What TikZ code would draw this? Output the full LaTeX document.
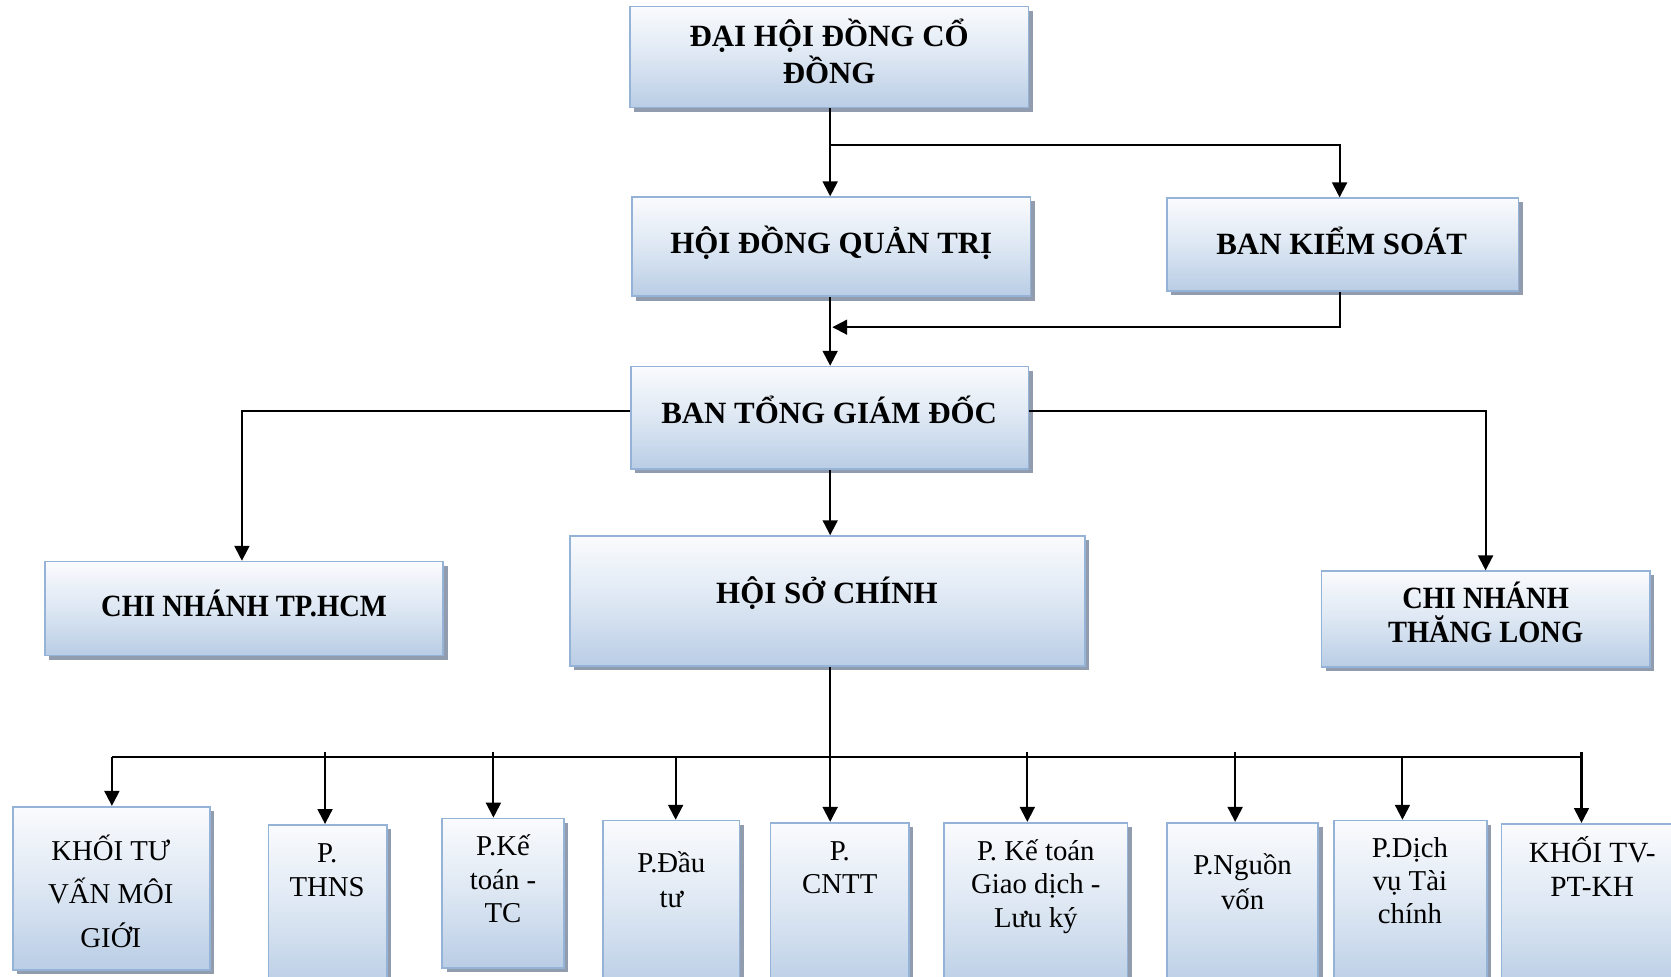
\documentclass[tikz,border=0pt]{standalone}
\usepackage{fontspec}
\setmainfont{Liberation Serif}
\usetikzlibrary{arrows.meta,shadows}
\definecolor{boxedge}{RGB}{149,179,215}
\definecolor{boxtop}{RGB}{250,251,253}
\definecolor{boxmid}{RGB}{221,231,243}
\definecolor{boxbot}{RGB}{185,205,229}
\definecolor{shadowc}{RGB}{145,157,174}
\begin{document}
\begin{tikzpicture}[x=1pt,y=-1pt,
  box/.style={draw=boxedge, line width=1.6pt, top color=boxtop, bottom color=boxbot, middle color=boxmid,
    drop shadow={shadow xshift=4pt, shadow yshift=-4pt, fill=shadowc, opacity=1}, inner sep=0pt},
  tb/.style={font=\fontsize{29}{34.5}\selectfont\bfseries, align=center, inner sep=0pt, anchor=base},
  tr/.style={font=\fontsize{27}{32}\selectfont, align=center, inner sep=0pt, anchor=base},
  ln/.style={line width=1.9pt},
  arr/.style={line width=1.9pt, -{Triangle[length=14pt,width=14pt]}}]
\path[use as bounding box, clip] (0,0) rectangle (1568,916);

% boxes
\node[box, minimum width=374pt, minimum height=95pt] (dh) at (778,53.5) {};
\node[box, minimum width=374pt, minimum height=93pt] (hdqt) at (780,231.5) {};
\node[box, minimum width=330pt, minimum height=87pt] (bks) at (1260,229.5) {};
\node[box, minimum width=373pt, minimum height=96pt] (btgd) at (778.5,392) {};
\node[box, minimum width=374pt, minimum height=88pt] (hcm) at (229,571) {};
\node[box, minimum width=483pt, minimum height=122pt] (hsc) at (776.5,564) {};
\node[box, minimum width=308pt, minimum height=90pt] (tl) at (1394,581) {};
\node[box, minimum width=185pt, minimum height=153pt] (b1) at (104.5,833.5) {};
\node[box, minimum width=111pt, minimum height=156pt] (b2) at (307.5,852) {};
\node[box, minimum width=114pt, minimum height=140pt] (b3) at (472,838) {};
\node[box, minimum width=128pt, minimum height=160pt] (b4) at (630,850) {};
\node[box, minimum width=130pt, minimum height=158pt] (b5) at (788,851) {};
\node[box, minimum width=172pt, minimum height=158pt] (b6) at (972,851) {};
\node[box, minimum width=142pt, minimum height=158pt] (b7) at (1166,851) {};
\node[box, minimum width=143pt, minimum height=160pt] (b8) at (1323.5,850) {};
\node[box, minimum width=171pt, minimum height=157pt] (b9) at (1494.5,851.5) {};

% texts (anchor=base is the baseline of the last line)
\node[tb] (dht) at (778,78) {ĐẠI HỘI ĐỒNG CỔ\\ĐỒNG};
\node[tb] (hdqtt) at (780,237.5) {HỘI ĐỒNG QUẢN TRỊ};
\node[tb] (bkst) at (1259,238.5) {BAN KIỂM SOÁT};
\node[tb] (btgdt) at (778,397.5) {BAN TỔNG GIÁM ĐỐC};
\node[tb] (hcmt) at (229,578.5) {\scalebox{0.925}[1]{CHI NHÁNH TP.HCM}};
\node[tb] (hsct) at (776,566.5) {HỘI SỞ CHÍNH};
\node[tb, font=\fontsize{29}{32}\selectfont\bfseries] (tlt) at (1394,603) {\scalebox{0.92}[1]{CHI NHÁNH}\\\scalebox{0.92}[1]{THĂNG LONG}};
\node[tr, font=\fontsize{27}{41}\selectfont] (b1t) at (104,889) {KHỐI TƯ\\VẤN MÔI\\GIỚI};
\node[tr] (b2t) at (307,841) {P.\\THNS};
\node[tr, font=\fontsize{27}{31.5}\selectfont] (b3t) at (472,866) {P.Kế\\toán -\\TC};
\node[tr, font=\fontsize{27}{33}\selectfont] (b4t) at (630,852) {P.Đầu\\tư};
\node[tr, font=\fontsize{27}{31}\selectfont] (b5t) at (788,838) {P.\\CNTT};
\node[tr, font=\fontsize{27}{31.5}\selectfont] (b6t) at (972,870) {P. Kế toán\\Giao dịch -\\Lưu ký};
\node[tr] (b7t) at (1166,853) {P.Nguồn\\vốn};
\node[tr, font=\fontsize{27}{31}\selectfont] (b8t) at (1323,867) {P.Dịch\\vụ Tài\\chính};
\node[tr, font=\fontsize{27.5}{32}\selectfont] (b9t) at (1494,841) {KHỐI TV-\\PT-KH};

% connectors
\coordinate (j1) at (779,136);
\coordinate (k1) at (1257,136);
\draw[arr] (dh.south -| j1) -- (hdqt.north -| j1);
\draw[arr] (j1) -- (k1) -- (k1 |- bks.north);
\draw[arr] (hdqt.south -| j1) -- (btgd.north -| j1);
\coordinate (k2) at (1257,307);
\coordinate (j2) at (781,307);
\draw[arr] (bks.south -| k2) -- (k2) -- (j2);
\coordinate (l1) at (227,386);
\coordinate (r1) at (1394,386);
\draw[arr] (btgd.west |- l1) -- (l1) -- (l1 |- hcm.north);
\draw[arr] (btgd.east |- r1) -- (r1) -- (r1 |- tl.north);
\draw[arr] (btgd.south -| j1) -- (hsc.north -| j1);
\draw[arr] (hsc.south -| j1) -- (b5.north -| j1);
\coordinate (busL) at (105,710);
\coordinate (busR) at (1484,710);
\coordinate (busT) at (1484,706);
\draw[ln] (busL) -- (busR);
\draw[arr] (busL) -- (busL |- b1.north);
\draw[arr] (busT) -- (busT |- b9.north);
\foreach \n/\x/\y in {2/305/706,3/463/706,4/634/710,6/964/706,7/1159/706,8/1316/710}{
  \coordinate (d\n) at (\x,\y);
  \draw[arr] (d\n) -- (d\n |- b\n.north);
}
\end{tikzpicture}
\end{document}
